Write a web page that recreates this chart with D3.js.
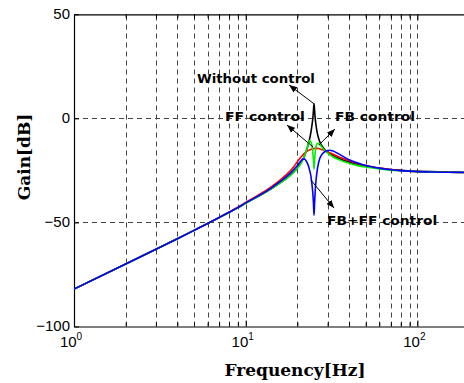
<!DOCTYPE html>
<html><head><meta charset="utf-8">
<script src="https://cdn.jsdelivr.net/npm/d3@7"></script>
<style>body{margin:0;background:#fff}svg{display:block}</style>
</head><body>
<svg id="c" width="464" height="383"></svg>
<script>
// ---- data ----
const freq = [1,2,3,4,5,6,7,8,9,10,12,14,16,18,19,20,21,21.5,22,22.5,23,23.5,24,24.3,24.6,24.8,25,25.2,25.4,25.7,26,26.5,27,28,29,30,31,32,35,40,45,50,60,70,80,100,120,150,200];
const gainWithout = [-82,-70,-62.9,-57.8,-53.8,-50.5,-47.7,-45.2,-43,-40.8,-37.2,-34,-30.8,-27.6,-25.8,-23.8,-21.2,-19.8,-18,-15.8,-13.3,-10.3,-6.5,-3.5,0,3.5,7,3.5,0,-3.5,-6.2,-9.2,-11.2,-13.6,-15.2,-16.3,-17.1,-17.8,-19.3,-21,-22.2,-23,-24,-24.6,-25,-25.4,-25.6,-25.8,-25.9];
const gainFF = [-82,-70,-62.9,-57.8,-53.8,-50.5,-47.6,-45,-42.7,-40.4,-36.6,-33,-29.4,-25.6,-23.4,-20.8,-18.6,-17.6,-16.8,-16.1,-15.6,-15.2,-14.9,-14.7,-14.6,-14.5,-14.5,-14.4,-14.4,-14.4,-14.4,-14.5,-14.7,-15.1,-15.6,-16.1,-16.6,-17.1,-18.5,-20.4,-21.7,-22.7,-23.9,-24.6,-25.1,-25.6,-25.8,-25.9,-26];
const gainFB = [-82,-70,-62.9,-57.8,-53.8,-50.5,-47.7,-45.2,-43,-40.8,-37.2,-34,-30.9,-27.8,-26,-24,-21.6,-20,-18,-15.8,-13.3,-10.6,-11.4,-13,-16.5,-20,-24.4,-20,-16.5,-13.5,-12.3,-12,-12.6,-14.2,-15.6,-16.7,-17.6,-18.3,-19.9,-21.6,-22.7,-23.4,-24.3,-24.9,-25.2,-25.6,-25.8,-25.9,-26];
const gainFBFF = [-82,-70,-62.9,-57.8,-53.8,-50.5,-47.6,-45.1,-42.9,-40.6,-37,-33.6,-30.2,-26.7,-24.7,-22.6,-20.4,-19.6,-19.6,-20.5,-22,-24.5,-28,-31.5,-36,-40.5,-46.5,-40.5,-35,-29.5,-25.8,-21.8,-19.3,-17,-15.9,-15.4,-15.3,-15.6,-17.2,-19.9,-21.5,-22.6,-23.9,-24.7,-25.1,-25.6,-25.8,-25.9,-26];
const seriesNames = ["Without control","FF control","FB control","FB+FF control"];
const seriesColors = ["#000000","#ff0000","#00ee00","#0000ff"];
const yTicks = [-100,-50,0,50];
const yTickLabels = ["\u2212100","\u221250","0","50"];
const xMajorTicks = [1,10,100];
const xMajorExp = ["0","1","2"];
const xMinorTicks = [2,3,4,5,6,7,8,9,20,30,40,50,60,70,80,90,200,300];
// annotation labels (text anchor freq/gain) and arrows (tail -> head, freq/gain)
const labelText = ["Without control","FF control","FB control","FB+FF control"];
const labelF = [5.2,7.57,33.1,29.8];
const labelG = [17,-1.5,-1.5,-51.3];
const labelW = [118,80,80,110];
const arrowTailF = [25,24.7,26.7,24];
const arrowTailG = [7,-13.8,-12.8,-29.7];
const arrowHeadF = [17.9,17.4,33.1,32.7];
const arrowHeadG = [16,-3.2,-5.1,-43.1];

// ---- layout ----
const W = 464, H = 383;
const mLeft = 74, mTop = 14.3, mBottom = 326.5;
const decade = 171.7;
const mRight = mLeft + 3*decade; // axis extends past the visible window

const x = d3.scaleLog().domain([1,1000]).range([mLeft,mRight]);
const y = d3.scaleLinear().domain([-100,50]).range([mBottom,mTop]);

const svg = d3.select("#c");
const defs = svg.append("defs");
defs.append("clipPath").attr("id","clip")
  .append("rect").attr("x",mLeft).attr("y",mTop).attr("width",mRight-mLeft).attr("height",mBottom-mTop);
defs.append("marker").attr("id","ah")
  .attr("viewBox","-8 -4 9 8").attr("refX",0).attr("refY",0)
  .attr("markerWidth",9).attr("markerHeight",8).attr("markerUnits","userSpaceOnUse")
  .attr("orient","auto")
  .append("path").attr("d","M0,0L-8,-3.2L-8,3.2Z").attr("fill","#000");

// grid
const grid = svg.append("g").attr("clip-path","url(#clip)")
  .attr("stroke","#444").attr("stroke-width",1).attr("stroke-dasharray","5,4").attr("fill","none");
grid.selectAll("line.v").data(xMinorTicks.concat([10,100])).enter().append("line")
  .attr("x1",d=>Math.round(x(d))+0.5).attr("x2",d=>Math.round(x(d))+0.5)
  .attr("y1",mBottom).attr("y2",mTop);
grid.selectAll("line.h").data([0,-50]).enter().append("line")
  .attr("y1",d=>Math.round(y(d))+0.5).attr("y2",d=>Math.round(y(d))+0.5)
  .attr("x1",mLeft).attr("x2",mRight);

// axes ticks (inside)
const xAll = xMajorTicks.concat(xMinorTicks);
const axB = d3.axisBottom(x).tickValues(xAll).tickSizeInner(-5).tickSizeOuter(0).tickFormat("");
const gB = svg.append("g").attr("transform",`translate(0,${mBottom})`).call(axB);
gB.selectAll(".tick line").attr("y2",d=>xMajorTicks.includes(d)?-6:-4);
const axT = d3.axisTop(x).tickValues(xAll).tickSizeInner(-5).tickSizeOuter(0).tickFormat("");
const gT = svg.append("g").attr("transform",`translate(0,${mTop})`).call(axT);
gT.selectAll(".tick line").attr("y2",d=>xMajorTicks.includes(d)?6:4);
const axL = d3.axisLeft(y).tickValues(yTicks).tickSizeInner(-5).tickSizeOuter(0).tickFormat("");
const gL = svg.append("g").attr("transform",`translate(${mLeft},0)`).call(axL);
[gB,gT,gL].forEach(g=>{g.select(".domain").attr("stroke","#000").attr("stroke-width",1.2);g.selectAll(".tick line").attr("stroke","#000");});

// tick labels
svg.append("g").selectAll("text").data(yTicks).enter().append("text")
  .attr("x",mLeft-4).attr("y",d=>y(d)-1).attr("dy","0.36em").attr("text-anchor","end")
  .attr("font-family","Liberation Sans, Arial, sans-serif").attr("font-size",15)
  .text((d,i)=>yTickLabels[i]);
const xl = svg.append("g").selectAll("text").data(xMajorTicks).enter().append("text")
  .attr("x",d=>x(d)-3).attr("y",mBottom+20).attr("text-anchor","middle")
  .attr("font-family","Liberation Sans, Arial, sans-serif").attr("font-size",15);
xl.append("tspan").text("10");
xl.append("tspan").attr("dy",-7).attr("font-size",10).text((d,i)=>xMajorExp[i]);

// axis titles
svg.append("text").attr("x",295).attr("y",376).attr("text-anchor","middle")
  .attr("font-family","DejaVu Serif, serif").attr("font-weight","bold").attr("font-size",17)
  .text("Frequency[Hz]");
svg.append("text").attr("transform","translate(30,157) rotate(-90)").attr("text-anchor","middle")
  .attr("font-family","DejaVu Serif, serif").attr("font-weight","bold").attr("font-size",17)
  .text("Gain[dB]");

// curves
const allGains = [gainWithout,gainFF,gainFB,gainFBFF];
const line = d3.line().x(d=>x(d[0])).y(d=>y(d[1])).curve(d3.curveMonotoneX);
const curves = svg.append("g").attr("clip-path","url(#clip)");
allGains.forEach((g,i)=>{
  curves.append("path").datum(freq.map((f,k)=>[f,g[k]]))
    .attr("d",line).attr("fill","none").attr("stroke",seriesColors[i]).attr("stroke-width",1.6)
    .attr("stroke-linejoin","round");
});

// annotations
const ann = svg.append("g");
labelText.forEach((t,i)=>{
  ann.append("line").attr("x1",x(arrowTailF[i])).attr("y1",y(arrowTailG[i]))
    .attr("x2",x(arrowHeadF[i])).attr("y2",y(arrowHeadG[i]))
    .attr("stroke","#000").attr("stroke-width",1).attr("marker-end","url(#ah)");
  ann.append("text").attr("x",x(labelF[i])).attr("y",y(labelG[i]))
    .attr("font-family","DejaVu Sans, sans-serif").attr("font-weight","bold").attr("font-size",13)
    .attr("textLength",labelW[i]).attr("lengthAdjust","spacingAndGlyphs")
    .text(t);
});
</script>
</body></html>
